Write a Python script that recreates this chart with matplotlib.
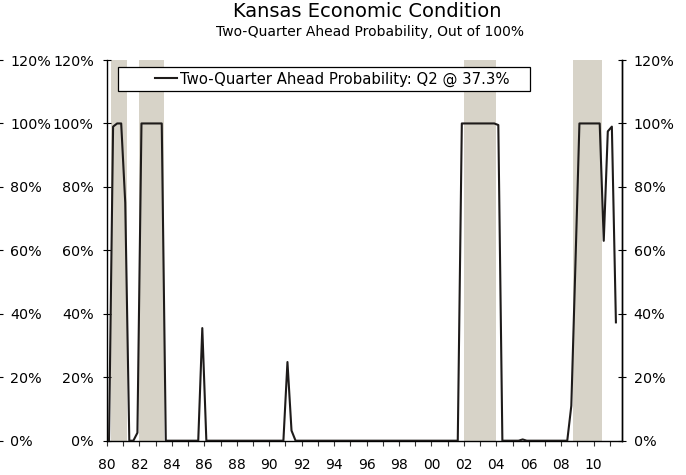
import numpy as np
import matplotlib
import matplotlib.pyplot as plt
from matplotlib.patches import Rectangle
from matplotlib.lines import Line2D

matplotlib.use('Agg')

# Quarterly probability, 1980Q1 .. 2011Q2 (four values per row = one year)
prob = [
    0, 99, 100, 100,      # 1980
    75, 0, 0, 2.5,        # 1981
    100, 100, 100, 100,   # 1982
    100, 100, 0, 0,       # 1983
    0, 0, 0, 0,           # 1984
    0, 0, 0, 35.5,        # 1985
    0, 0, 0, 0,           # 1986
    0, 0, 0, 0,           # 1987
    0, 0, 0, 0,           # 1988
    0, 0, 0, 0,           # 1989
    0, 0, 0, 0,           # 1990
    24.8, 3.2, 0, 0,      # 1991
    0, 0, 0, 0,           # 1992
    0, 0, 0, 0,           # 1993
    0, 0, 0, 0,           # 1994
    0, 0, 0, 0,           # 1995
    0, 0, 0, 0,           # 1996
    0, 0, 0, 0,           # 1997
    0, 0, 0, 0,           # 1998
    0, 0, 0, 0,           # 1999
    0, 0, 0, 0,           # 2000
    0, 0, 0, 100,         # 2001
    100, 100, 100, 100,   # 2002
    100, 100, 100, 100,   # 2003
    99.5, 0, 0, 0,        # 2004
    0, 0, 0.4, 0,         # 2005
    0, 0, 0, 0,           # 2006
    0, 0, 0, 0,           # 2007
    0, 0, 11, 55,         # 2008
    100, 100, 100, 100,   # 2009
    100, 100, 63, 97.5,   # 2010
    99, 37.3,             # 2011
]

# shaded periods (start, end) in years
shade_periods = [(1980.25, 1981.25), (1982.0, 1983.5),
                 (2002.0, 2004.0), (2008.75, 2010.5)]

year_labels = list(range(1980, 2011, 2))
y_ticks = [0, 20, 40, 60, 80, 100, 120]

legend_text = 'Two-Quarter Ahead Probability: Q2 @ 37.3%'
title = 'Kansas Economic Condition'
subtitle = 'Two-Quarter Ahead Probability, Out of 100%'

line_color = '#1e1b1a'
shade_color = '#d7d3c8'
FS = 10.3

W, H = 686, 475
fig = plt.figure(figsize=(W / 100, H / 100), dpi=100)

left, right, top, bottom = 107, 622, 60, 440.7
pos = [left / W, (H - bottom) / H, (right - left) / W, (bottom - top) / H]
ax = fig.add_axes(pos)

x = 1980 + (np.arange(len(prob)) + 0.5) / 4
for s, e in shade_periods:
    ax.axvspan(s, e, color=shade_color, lw=0, zorder=0)
ax.plot(x, prob, color=line_color, lw=1.5, zorder=3)

ax.set_xlim(1980, 1980 + 127 / 4)
ax.set_ylim(0, 120)

ax.set_xticks(year_labels)
ax.set_xticklabels(['%02d' % (y % 100) for y in year_labels], fontsize=10)
ax.set_xticks([y + 1 for y in year_labels], minor=True)
ax.tick_params(axis='x', which='both', direction='out', length=3.6, width=0.8,
               color='#333333', pad=9)

ax.set_yticks(y_ticks)
ax.set_yticklabels(['%d%%' % v for v in y_ticks], fontsize=FS)
ax.tick_params(axis='y', direction='inout', length=6, width=0.8, pad=6.5)

for side in ['left', 'right', 'bottom']:
    ax.spines[side].set_linewidth(1.0)
    ax.spines[side].set_color('black')
ax.spines['top'].set_visible(False)

# right axis
ax_r = ax.twinx()
ax_r.set_ylim(0, 120)
ax_r.set_yticks(y_ticks)
ax_r.set_yticklabels(['%d%%' % v for v in y_ticks], fontsize=FS)
ax_r.tick_params(axis='y', direction='inout', length=6, width=0.8, pad=5.5)
for side in ['left', 'top', 'bottom']:
    ax_r.spines[side].set_visible(False)
ax_r.spines['right'].set_linewidth(1.0)

# cut-off right axis of the neighbouring chart at the far left
ax_l = fig.add_axes([(-1 - 60) / W, pos[1], 60 / W, pos[3]])
ax_l.set_ylim(0, 120)
ax_l.set_xticks([])
ax_l.yaxis.tick_right()
ax_l.set_yticks(y_ticks)
ax_l.set_yticklabels(['%d%%' % v for v in y_ticks], fontsize=FS)
ax_l.tick_params(axis='y', direction='inout', length=6, width=0.8, pad=5)
for side in ['left', 'top', 'bottom', 'right']:
    ax_l.spines[side].set_visible(False)
ax_l.patch.set_visible(False)

# legend box
fig.add_artist(Rectangle((118 / W, (H - 91) / H), (530 - 118) / W, 24 / H,
                         transform=fig.transFigure, facecolor='white',
                         edgecolor='black', lw=0.9, zorder=5))
handle = Line2D([], [], color=line_color, lw=1.5)
fig.legend([handle], [legend_text], loc='center left',
           bbox_to_anchor=(155 / W, (H - 79) / H), frameon=False,
           fontsize=10.7, handlelength=1.5, handletextpad=0.2,
           borderaxespad=0, borderpad=0).set_zorder(6)

fig.text(367 / W, 1 - 17 / H, title, ha='center', va='baseline', fontsize=14)
fig.text(370 / W, 1 - 36 / H, subtitle, ha='center', va='baseline', fontsize=10)

fig.savefig('out.png', dpi=100)
plt.close(fig)
